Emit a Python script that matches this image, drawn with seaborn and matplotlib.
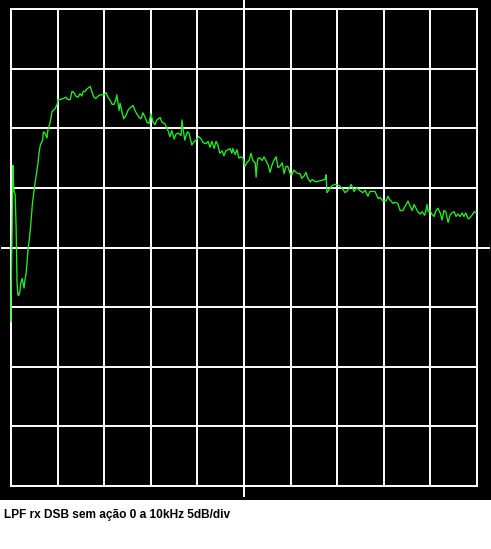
import numpy as np
import matplotlib
matplotlib.use("Agg")
import matplotlib.pyplot as plt
from matplotlib.patches import Rectangle
import seaborn as sns

# spectrum trace: 0..10 kHz, 5 dB/div, top of screen = 0 dB
freq_khz = [0.00, 0.00, 0.02, 0.04, 0.06, 0.09, 0.11, 0.12, 0.13, 0.15,
            0.17, 0.19, 0.21, 0.24, 0.26, 0.28, 0.30, 0.32, 0.34, 0.36,
            0.39, 0.42, 0.44, 0.46, 0.49, 0.52, 0.55, 0.58, 0.60, 0.63,
            0.68, 0.69, 0.71, 0.75, 0.77, 0.79, 0.84, 0.88, 0.90, 0.94,
            0.99, 1.01, 1.05, 1.12, 1.18, 1.22, 1.27, 1.31, 1.35, 1.39,
            1.44, 1.48, 1.52, 1.55, 1.59, 1.63, 1.70, 1.74, 1.78, 1.82,
            1.87, 1.91, 2.00, 2.04, 2.08, 2.12, 2.17, 2.21, 2.25, 2.27,
            2.30, 2.32, 2.34, 2.38, 2.42, 2.47, 2.51, 2.55, 2.62, 2.66,
            2.70, 2.75, 2.79, 2.83, 2.88, 2.92, 2.96, 3.00, 3.05, 3.09,
            3.13, 3.20, 3.24, 3.30, 3.37, 3.41, 3.45, 3.50, 3.54, 3.58,
            3.65, 3.67, 3.69, 3.73, 3.78, 3.82, 3.88, 3.93, 3.97, 4.03,
            4.08, 4.12, 4.18, 4.23, 4.27, 4.31, 4.36, 4.40, 4.44, 4.48,
            4.53, 4.57, 4.61, 4.66, 4.70, 4.74, 4.76, 4.81, 4.85, 4.89,
            4.94, 4.98, 5.02, 5.06, 5.11, 5.15, 5.19, 5.24, 5.26, 5.28,
            5.30, 5.34, 5.39, 5.43, 5.47, 5.52, 5.56, 5.60, 5.64, 5.69,
            5.73, 5.77, 5.82, 5.86, 5.90, 5.94, 5.99, 6.03, 6.07, 6.12,
            6.16, 6.20, 6.24, 6.29, 6.33, 6.37, 6.42, 6.46, 6.50, 6.55,
            6.63, 6.74, 6.76, 6.78, 6.82, 6.89, 6.97, 7.04, 7.10, 7.17,
            7.23, 7.30, 7.36, 7.42, 7.51, 7.55, 7.60, 7.66, 7.70, 7.77,
            7.81, 7.88, 7.92, 7.98, 8.05, 8.09, 8.13, 8.20, 8.24, 8.30,
            8.35, 8.41, 8.45, 8.52, 8.56, 8.61, 8.65, 8.69, 8.73, 8.78,
            8.82, 8.88, 8.93, 8.95, 8.99, 9.03, 9.08, 9.12, 9.16, 9.21,
            9.25, 9.29, 9.33, 9.38, 9.42, 9.46, 9.51, 9.55, 9.59, 9.64,
            9.68, 9.72, 9.76, 9.81, 9.85, 9.89, 9.94, 9.98]

level_db = [-26.2, -24.0, -19.8, -13.1, -15.2, -15.6, -18.4, -21.0, -23.0, -24.0,
            -24.0, -23.7, -23.0, -22.6, -23.0, -23.4, -22.7, -22.3, -21.5, -20.4,
            -19.4, -18.3, -17.3, -16.3, -15.4, -14.5, -13.7, -12.9, -12.1, -11.4,
            -11.0, -10.4, -10.3, -10.6, -10.8, -10.2, -9.5, -8.6, -8.5, -8.4,
            -8.0, -7.6, -7.6, -7.5, -7.4, -7.6, -7.6, -6.9, -7.0, -7.3,
            -7.4, -7.1, -7.3, -6.9, -6.9, -6.7, -6.5, -7.0, -7.4, -7.5,
            -7.3, -7.2, -7.2, -7.0, -7.4, -7.6, -8.0, -8.0, -7.6, -7.2,
            -8.0, -8.5, -7.9, -8.6, -9.2, -8.9, -8.5, -8.3, -8.1, -8.5,
            -8.8, -9.1, -9.2, -8.7, -9.1, -9.5, -9.6, -8.8, -9.5, -9.7,
            -9.3, -9.1, -9.5, -9.6, -10.2, -10.7, -10.2, -10.9, -10.5, -10.4,
            -10.6, -9.3, -10.0, -11.0, -10.3, -10.4, -11.4, -11.1, -11.0, -10.7,
            -10.9, -11.2, -11.3, -11.1, -11.6, -11.1, -11.7, -11.1, -11.4, -12.1,
            -11.9, -12.3, -11.9, -11.8, -11.7, -12.1, -11.7, -12.2, -11.8, -12.5,
            -12.4, -12.5, -13.2, -12.9, -12.7, -12.1, -12.7, -12.9, -14.1, -13.1,
            -12.5, -12.5, -12.7, -12.4, -12.7, -13.1, -13.7, -13.1, -12.7, -12.4,
            -13.3, -13.2, -12.9, -13.8, -13.2, -13.2, -13.8, -13.9, -13.5, -13.7,
            -13.8, -13.8, -14.2, -14.0, -13.7, -14.2, -14.5, -14.3, -14.4, -14.5,
            -14.4, -14.3, -13.9, -15.4, -15.2, -14.8, -14.7, -14.8, -15.0, -15.4,
            -15.2, -14.7, -15.3, -15.0, -15.3, -15.4, -15.2, -15.7, -15.3, -15.3,
            -15.3, -15.9, -15.8, -16.1, -16.1, -15.7, -16.0, -16.3, -16.2, -16.3,
            -16.9, -16.9, -16.6, -16.1, -16.5, -16.9, -16.4, -16.7, -17.0, -17.2,
            -17.0, -17.3, -16.4, -17.0, -16.9, -17.2, -17.4, -16.9, -16.7, -17.1,
            -17.7, -16.9, -17.0, -17.9, -17.3, -17.1, -17.0, -17.4, -17.2, -17.4,
            -17.1, -17.4, -17.1, -17.6, -17.5, -17.3, -17.0, -17.1]

x_ticks = np.arange(0, 11, 1)      # 1 kHz/div
y_ticks = np.arange(-40, 1, 5)     # 5 dB/div
caption = "LPF rx DSB sem ação 0 a 10kHz 5dB/div"

W, H = 491, 549
fig = plt.figure(figsize=(W / 100, H / 100), dpi=100, facecolor="white")

# black scope screen behind the graticule
fig.patches.append(Rectangle((0, 1 - 500 / H), 1, 500 / H, transform=fig.transFigure,
                             facecolor="black", edgecolor="none", zorder=-5))

ax = fig.add_axes([11 / W, 1 - 486 / H, 466 / W, 477 / H])
ax.set_facecolor("black")

sns.lineplot(x=freq_khz, y=level_db, sort=False, estimator=None,
             color="#22ee22", linewidth=0.95, ax=ax, zorder=4, clip_on=False)

ax.set_xlim(0, 10)
ax.set_ylim(-40, 0)
ax.set_xticks(x_ticks)
ax.set_yticks(y_ticks)
ax.tick_params(length=0, labelbottom=False, labelleft=False)
ax.set_xlabel("")
ax.set_ylabel("")
ax.grid(True, color="white", linewidth=1.4)
ax.set_axisbelow(True)
for s in ax.spines.values():
    s.set_color("white")
    s.set_linewidth(1.4)
    s.set_zorder(2)

# centre cross lines poke out past the graticule
ax.axhline(-20, xmin=-9 / 466, xmax=478 / 466, color="white", lw=1.4, clip_on=False, zorder=2)
ax.axvline(5, ymin=-10 / 477, ymax=486 / 477, color="white", lw=1.4, clip_on=False, zorder=2)

fig.text(4 / W, 1 - 518 / H, caption, family="Liberation Sans", fontweight="bold",
         fontsize=8.6, color="black", va="baseline", ha="left")

fig.savefig("out.png", dpi=100, facecolor="white")
